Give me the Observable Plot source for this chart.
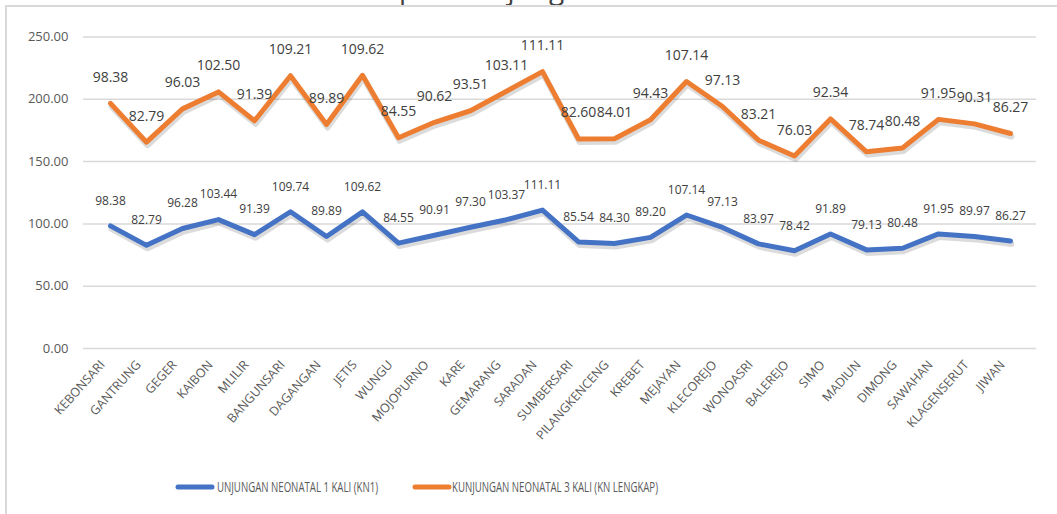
<!DOCTYPE html>
<html>
<head>
<meta charset="utf-8">
<script src="https://cdn.jsdelivr.net/npm/d3@7"></script>
<script src="https://cdn.jsdelivr.net/npm/@observablehq/plot@0.6"></script>
<style>
  html, body { margin: 0; padding: 0; background: #fff; }
  #page { position: relative; width: 1057px; height: 514px; overflow: hidden; font-family: "Open Sans", sans-serif; }
  #frame { position: absolute; left: 5px; top: 5px; width: 1100px; height: 600px; border-top: 2px solid #d9d9d9; border-left: 2px solid #d9d9d9; }
  #title { position: absolute; left: 0; width: 1057px; top: -26px; text-align: center; font-size: 28px; line-height: 28px; color: #404040; }
  #chart { position: absolute; left: 0; top: 0; }
  #legend { position: absolute; top: 478px; left: 0; width: 1057px; height: 20px; }
</style>
</head>
<body>
<div id="page">
  <div id="title">Cakupan Kunjungan Neonatal</div>
  <div id="frame"></div>
  <div id="chart"></div>
  <div id="legend"></div>
</div>
<script>
const categories = ["KEBONSARI","GANTRUNG","GEGER","KAIBON","MLILIR","BANGUNSARI","DAGANGAN","JETIS","WUNGU","MOJOPURNO","KARE","GEMARANG","SARADAN","SUMBERSARI","PILANGKENCENG","KREBET","MEJAYAN","KLECOREJO","WONOASRI","BALEREJO","SIMO","MADIUN","DIMONG","SAWAHAN","KLAGENSERUT","JIWAN"];
const kn1 = [98.38,82.79,96.28,103.44,91.39,109.74,89.89,109.62,84.55,90.91,97.30,103.37,111.11,85.54,84.30,89.20,107.14,97.13,83.97,78.42,91.89,79.13,80.48,91.95,89.97,86.27];
const knLengkap = [98.38,82.79,96.03,102.50,91.39,109.21,89.89,109.62,84.55,90.62,93.51,103.11,111.11,82.60,84.01,94.43,107.14,97.13,83.21,76.03,92.34,78.74,80.48,91.95,90.31,86.27];
const yTicks = [0, 50, 100, 150, 200, 250];
const seriesNames = ["UNJUNGAN NEONATAL 1 KALI (KN1)", "KUNJUNGAN NEONATAL 3 KALI (KN LENGKAP)"];
const colors = ["#4472C4", "#ED7D31"];

// stacked line chart (Excel "stacked line"): second series sits on top of the first
const blue = categories.map((c, i) => ({cat: c, y: kn1[i], label: kn1[i].toFixed(2)}));
const orange = categories.map((c, i) => ({cat: c, y: kn1[i] + knLengkap[i], label: knLengkap[i].toFixed(2)}));

const chart = Plot.plot({
  width: 1057,
  height: 460,
  marginLeft: 83,
  marginRight: 21,
  marginTop: 36.5,
  marginBottom: 112,
  style: {fontFamily: "Open Sans, sans-serif", fontSize: "13px", color: "#595959", background: "transparent"},
  x: {type: "point", domain: categories, padding: 0.5, label: null},
  y: {domain: [0, 250], ticks: yTicks, label: null},
  marks: [
    Plot.gridY(yTicks, {stroke: "#d9d9d9", strokeOpacity: 1, strokeWidth: 1.5}),
    Plot.axisY(yTicks, {tickSize: 0, tickPadding: 15, tickFormat: d => d.toFixed(2), fontSize: 13, label: null}),
    Plot.axisX({tickSize: 0, tickPadding: 14, tickRotate: -48, fontSize: 12.5, dx: -8, label: null}),
    // soft shadows
    Plot.line(blue, {x: "cat", y: "y", stroke: "#000", strokeOpacity: 0.14, strokeWidth: 6, dy: 3, dx: 1, strokeLinejoin: "round", strokeLinecap: "round"}),
    Plot.line(orange, {x: "cat", y: "y", stroke: "#000", strokeOpacity: 0.14, strokeWidth: 6, dy: 3, dx: 1, strokeLinejoin: "round", strokeLinecap: "round"}),
    Plot.line(blue, {x: "cat", y: "y", stroke: colors[0], strokeWidth: 5, strokeLinejoin: "round", strokeLinecap: "round"}),
    Plot.line(orange, {x: "cat", y: "y", stroke: colors[1], strokeWidth: 5, strokeLinejoin: "round", strokeLinecap: "round"}),
    Plot.text(blue, {x: "cat", y: "y", text: "label", dy: -25, fontSize: 12, fill: "#404040"}),
    Plot.text(orange, {x: "cat", y: "y", text: "label", dy: -26, fontSize: 14, fill: "#404040"})
  ]
});
document.getElementById("chart").appendChild(chart);

// legend
const ns = "http://www.w3.org/2000/svg";
const lg = document.createElementNS(ns, "svg");
lg.setAttribute("width", 1057);
lg.setAttribute("height", 20);
const items = [
  {x0: 178, x1: 212, tx: 217, tw: 161},
  {x0: 415, x1: 449, tx: 452, tw: 206}
];
items.forEach((it, i) => {
  const ln = document.createElementNS(ns, "line");
  ln.setAttribute("x1", it.x0); ln.setAttribute("x2", it.x1);
  ln.setAttribute("y1", 9); ln.setAttribute("y2", 9);
  ln.setAttribute("stroke", colors[i]); ln.setAttribute("stroke-width", 5);
  ln.setAttribute("stroke-linecap", "round");
  lg.appendChild(ln);
  const t = document.createElementNS(ns, "text");
  t.setAttribute("x", it.tx); t.setAttribute("y", 14);
  t.setAttribute("font-family", "Open Sans, sans-serif");
  t.setAttribute("font-size", 14);
  t.setAttribute("fill", "#595959");
  t.setAttribute("textLength", it.tw);
  t.setAttribute("lengthAdjust", "spacingAndGlyphs");
  t.textContent = seriesNames[i];
  lg.appendChild(t);
});
document.getElementById("legend").appendChild(lg);
</script>
</body>
</html>
